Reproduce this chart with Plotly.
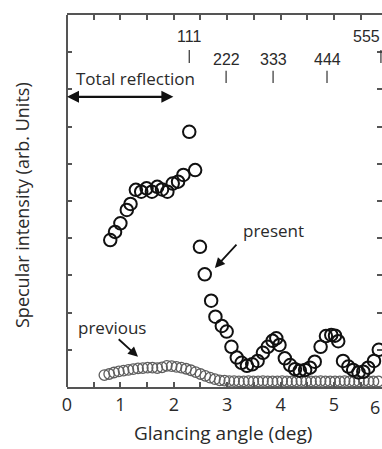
import plotly.graph_objects as go

# Present measurement (glancing angle in deg, specular intensity in arb. units)
present_x = [0.81, 0.90, 1.00, 1.12, 1.19, 1.29, 1.39, 1.49, 1.59, 1.69, 1.78, 1.88, 1.98, 2.08,
             2.18, 2.29, 2.40, 2.49, 2.58, 2.70, 2.78, 2.90, 2.99, 3.08, 3.18, 3.27, 3.37, 3.47,
             3.57, 3.67, 3.76, 3.85, 3.92, 3.98, 4.08, 4.18, 4.27, 4.36, 4.46, 4.55, 4.64, 4.75,
             4.85, 4.95, 5.02, 5.08, 5.17, 5.27, 5.36, 5.46, 5.55, 5.64, 5.75, 5.84, 5.94]
present_y = [3.95, 4.17, 4.40, 4.76, 4.92, 5.30, 5.25, 5.34, 5.25, 5.38, 5.31, 5.25, 5.47, 5.52,
             5.70, 6.86, 5.83, 3.77, 3.03, 2.32, 1.89, 1.64, 1.49, 1.08, 0.79, 0.65, 0.57, 0.61,
             0.70, 0.92, 1.08, 1.24, 1.31, 1.13, 0.77, 0.59, 0.48, 0.44, 0.46, 0.52, 0.68, 1.08,
             1.37, 1.40, 1.38, 1.23, 0.70, 0.55, 0.46, 0.39, 0.41, 0.52, 0.70, 1.00, 1.35]

# Previous measurement
previous_x = [0.70, 0.79, 0.88, 0.97, 1.06, 1.15, 1.24, 1.33, 1.42, 1.51, 1.60, 1.69, 1.78, 1.87,
              1.96, 2.05, 2.14, 2.23, 2.32, 2.41, 2.50, 2.59, 2.68, 2.77, 2.86, 2.95, 3.04, 3.13,
              3.22, 3.31, 3.40, 3.49, 3.58, 3.67, 3.76, 3.85, 3.94, 4.03, 4.12, 4.21, 4.30, 4.39,
              4.48, 4.57, 4.66, 4.75, 4.84, 4.93, 5.02, 5.11, 5.20, 5.29, 5.38, 5.47, 5.56, 5.65,
              5.74, 5.83, 5.92]
previous_y = [0.32, 0.35, 0.39, 0.42, 0.44, 0.46, 0.48, 0.50, 0.51, 0.52, 0.52, 0.51, 0.53, 0.57,
              0.56, 0.54, 0.52, 0.49, 0.45, 0.40, 0.35, 0.30, 0.25, 0.21, 0.18, 0.17, 0.16, 0.16,
              0.15, 0.15, 0.16, 0.15, 0.15, 0.16, 0.15, 0.15, 0.15, 0.16, 0.15, 0.15, 0.15, 0.16,
              0.15, 0.15, 0.15, 0.16, 0.15, 0.15, 0.15, 0.15, 0.16, 0.15, 0.15, 0.15, 0.16, 0.15,
              0.15, 0.15, 0.15]

# Bragg reflection labels
refl_labels = ["111", "222", "333", "444", "555"]
refl_x = [2.29, 2.98, 3.86, 4.87, 5.88]
refl_row = [0, 1, 1, 1, 0]  # label row (0 = upper, 1 = lower)

x_tickvals = [0, 0.5, 1, 1.5, 2, 2.5, 3, 3.5, 4, 4.5, 5, 5.5]
x_ticktext = ["0", "", "1", "", "2", "", "3", "", "4", "", "5", ""]
y_tickvals = [0, 1, 2, 3, 4, 5, 6, 7, 8, 9, 10]

FONT = "Open Sans, Noto Sans, sans-serif"
NUMFONT = "Liberation Sans, Arial, sans-serif"
AX = "#555555"
TXT = "#2a2a2a"
ROW_LABEL_BOTTOM = [0.915, 0.853]
ROW_TICK = [(0.871, 0.906), (0.817, 0.850)]

fig = go.Figure()
fig.add_trace(go.Scatter(
    x=previous_x, y=previous_y, mode="markers", name="previous",
    marker=dict(symbol="circle-open", size=10.5, color="#5e5e5e", line=dict(width=1.3, color="#5e5e5e")),
    cliponaxis=False))
fig.add_trace(go.Scatter(
    x=present_x, y=present_y, mode="markers", name="present",
    marker=dict(symbol="circle-open", size=12.5, color="#111111", line=dict(width=2, color="#111111")),
    cliponaxis=True))

annotations = []
shapes = []
for lab, xv, row in zip(refl_labels, refl_x, refl_row):
    is_edge = lab == "555"
    annotations.append(dict(x=1.0 if is_edge else xv, y=ROW_LABEL_BOTTOM[row],
                            xref="paper" if is_edge else "x",
                            yref="paper", text=lab, showarrow=False,
                            font=dict(size=16, color=TXT, family=NUMFONT),
                            yanchor="bottom", xanchor="right" if is_edge else "center"))
    shapes.append(dict(type="line", xref="x", yref="paper", x0=xv, x1=xv,
                       y0=ROW_TICK[row][0], y1=ROW_TICK[row][1], line=dict(color="#333", width=1.2)))

annotations += [
    dict(x=1.28, y=8.3, xref="x", yref="y", text="Total reflection", showarrow=False,
         font=dict(size=17, color=TXT, family=FONT), yanchor="middle"),
    dict(x=0.0, y=7.8, ax=2.02, ay=7.8, xref="x", yref="y", axref="x", ayref="y", text="",
         showarrow=True, arrowhead=2, startarrowhead=2, arrowside="end+start",
         arrowsize=1.0, startarrowsize=1.0, arrowwidth=2.4, arrowcolor="#111",
         standoff=0, startstandoff=0),
    dict(x=3.86, y=4.22, xref="x", yref="y", text="present", showarrow=False,
         font=dict(size=17, color=TXT, family=FONT)),
    dict(x=2.77, y=3.2, ax=3.2, ay=3.87, xref="x", yref="y", axref="x", ayref="y", text="",
         showarrow=True, arrowhead=2, arrowsize=1.1, arrowwidth=1.8, arrowcolor="#111"),
    dict(x=0.84, y=1.61, xref="x", yref="y", text="previous", showarrow=False,
         font=dict(size=17, color=TXT, family=FONT)),
    dict(x=1.33, y=0.81, ax=0.94, ay=1.32, xref="x", yref="y", axref="x", ayref="y", text="",
         showarrow=True, arrowhead=2, arrowsize=1.1, arrowwidth=1.8, arrowcolor="#111"),
    dict(x=1.0, y=0, xref="paper", yref="paper", text="6", showarrow=False, yanchor="top",
         xanchor="right", yshift=-6, font=dict(size=18, color=TXT, family=FONT)),
    dict(x=0.5, y=0, xref="paper", yref="paper", text="Glancing angle (deg)", showarrow=False,
         yanchor="middle", yshift=-46, xshift=-2, font=dict(size=19, color=TXT, family=FONT)),
    dict(x=0, y=0.5, xref="paper", yref="paper", text="Specular intensity (arb. Units)",
         showarrow=False, textangle=-90, xanchor="center", yanchor="middle",
         xshift=-45, yshift=-4, font=dict(size=18, color=TXT, family=FONT)),
]

# left axis line (right one lies outside the image)
shapes.append(dict(type="line", xref="paper", yref="paper", x0=0, x1=0, y0=0, y1=1,
                   line=dict(color=AX, width=2)))

fig.update_layout(
    width=382, height=449,
    margin=dict(l=67, r=0, t=15, b=62),
    paper_bgcolor="white", plot_bgcolor="white",
    showlegend=False,
    annotations=annotations, shapes=shapes,
    font=dict(family=FONT, color=TXT),
    xaxis=dict(range=[0, 5.9], tickvals=x_tickvals, ticktext=x_ticktext, ticks="inside",
               ticklen=5, tickwidth=1.5, tickcolor=AX, showline=True, linecolor=AX, linewidth=2,
               mirror="ticks", showgrid=False, zeroline=False, automargin=False,
               tickfont=dict(size=18, color=TXT, family=FONT)),
    yaxis=dict(range=[0, 10], tickvals=y_tickvals, showticklabels=False, ticks="inside",
               ticklen=5, tickwidth=1.5, tickcolor=AX, showline=False, automargin=False,
               mirror="ticks", showgrid=False, zeroline=False),
)

fig.write_html("out.html", config={"displayModeBar": False},
               post_script="document.body.style.margin='0';document.body.style.overflow='hidden';")
